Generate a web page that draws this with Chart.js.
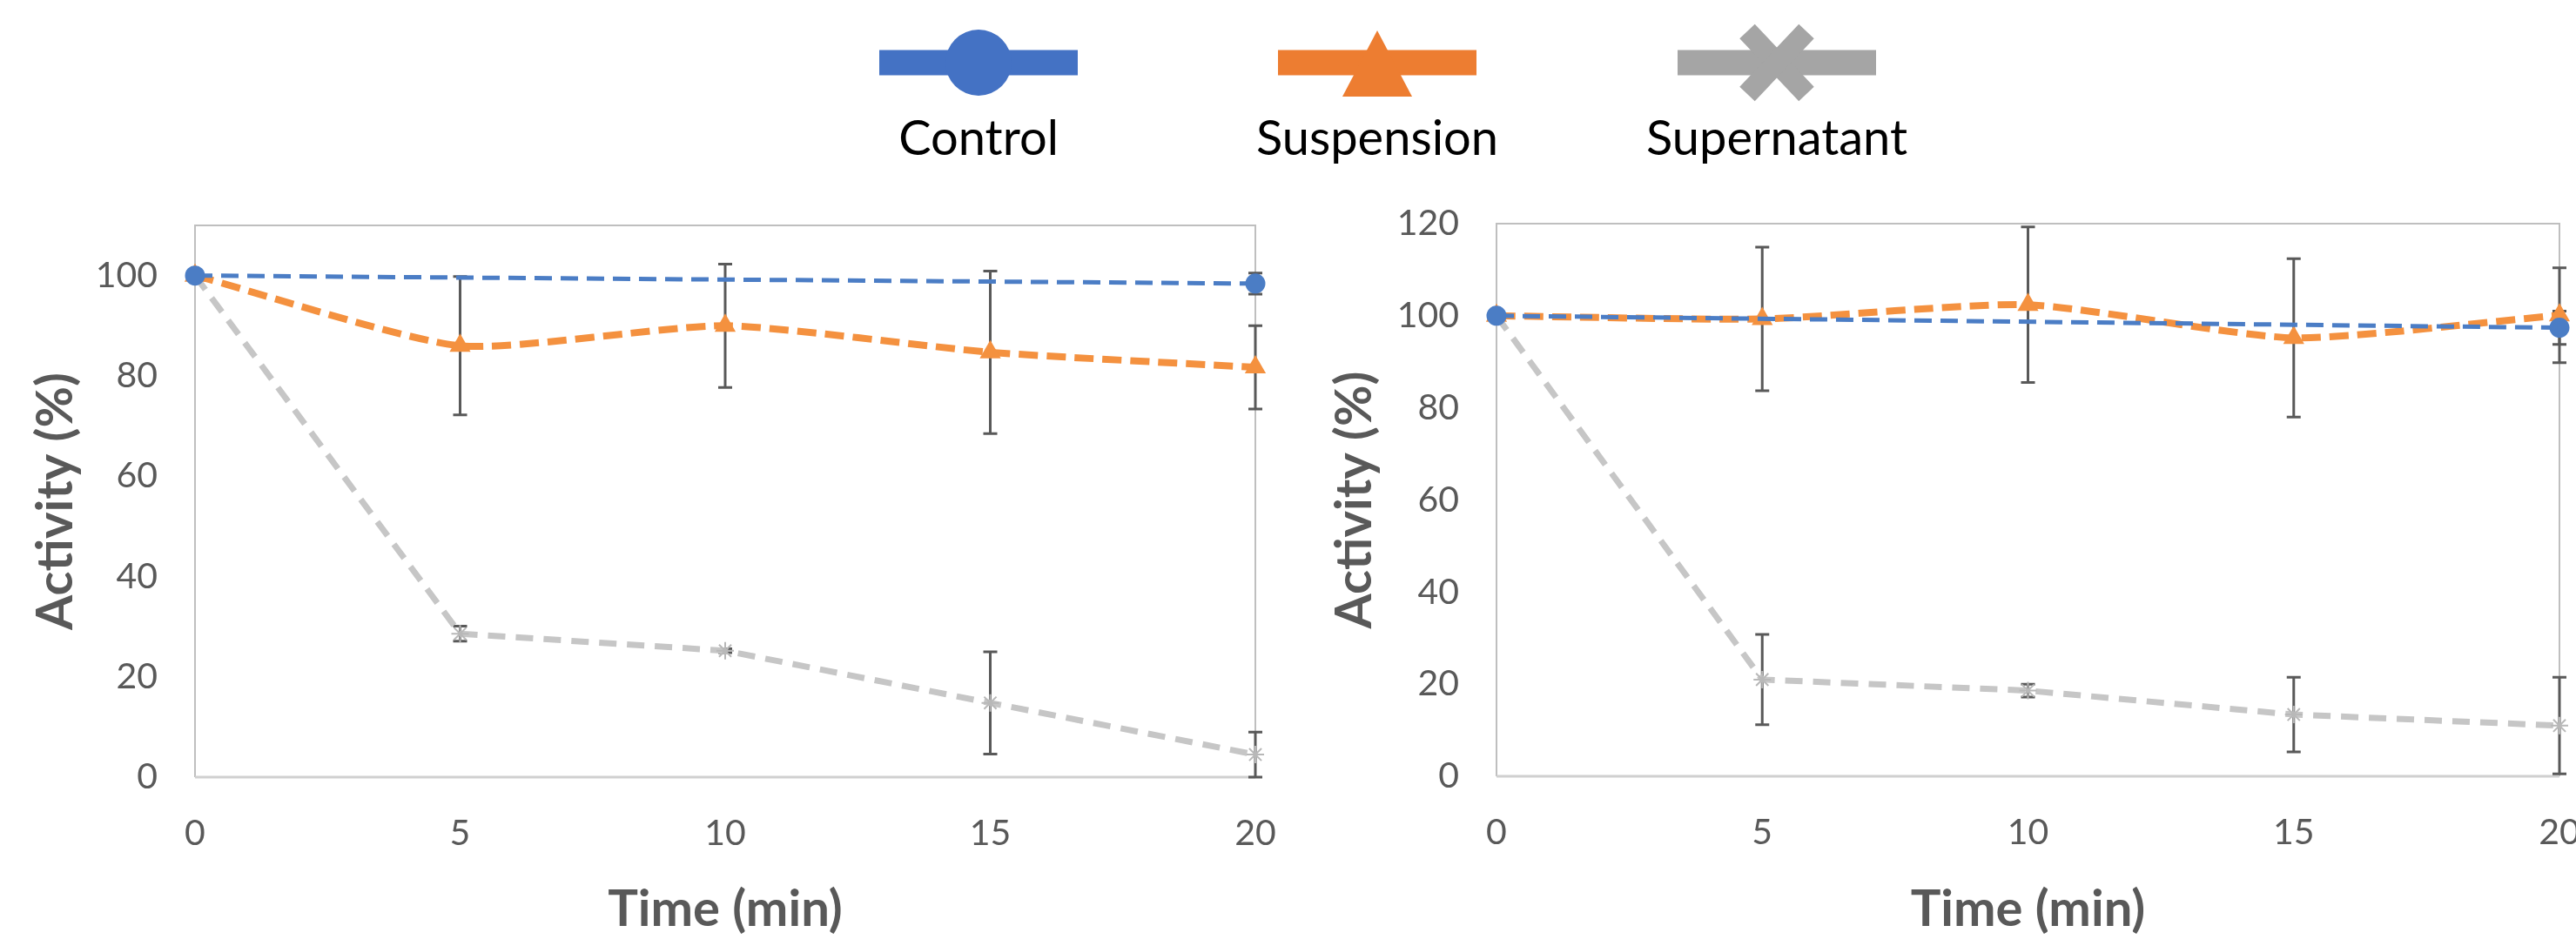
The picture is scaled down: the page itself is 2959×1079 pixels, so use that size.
<!DOCTYPE html>
<html><head><meta charset="utf-8">
<script src="https://cdn.jsdelivr.net/npm/chart.js@4.4.1/dist/chart.umd.min.js"></script>
<style>
html,body{margin:0;padding:0;width:2959px;height:1079px;overflow:hidden;background:#fff;}
#legend{position:absolute;left:0;top:0;}
.wrap{position:absolute;top:0;height:1079px;}
</style></head><body>
<svg id="legend" width="2959" height="200" xmlns="http://www.w3.org/2000/svg"></svg>
<div class="wrap" style="left:0;width:1480px"><canvas id="c1"></canvas></div>
<div class="wrap" style="left:1480px;width:1500px"><canvas id="c2"></canvas></div>
<script>
// ---------- data ----------
const seriesNames = ['Control', 'Suspension', 'Supernatant'];
const xTicks = [0, 5, 10, 15, 20];
const leftYTicks = [0, 20, 40, 60, 80, 100];
const rightYTicks = [0, 20, 40, 60, 80, 100, 120];
const timeAll = [0, 5, 10, 15, 20];
const timeControl = [0, 20];
const xTitle = 'Time (min)';
const yTitle = 'Activity (%)';

const leftControl = [100, 98.4];
const leftControlErr = [0, 2.1];
const leftSuspension = [100, 86.0, 90.0, 84.7, 81.7];
const leftSuspensionErr = [0, 13.8, 12.3, 16.2, 8.3];
const leftSupernatant = [100, 28.6, 25.2, 14.8, 4.5];
const leftSupernatantErr = [0, 1.5, 0.4, 10.2, 4.5];

const rightControl = [100, 97.4];
const rightControlErr = [0, 3.6];
const rightSuspension = [100, 99.3, 102.4, 95.2, 100.1];
const rightSuspensionErr = [0, 15.6, 16.9, 17.2, 10.3];
const rightSupernatant = [100, 21.0, 18.6, 13.4, 11.0];
const rightSupernatantErr = [0, 9.8, 1.4, 8.1, 10.5];

// ---------- styles ----------
const COL = {
  controlLegend: '#4472C4', suspLegend: '#ED7D31', superLegend: '#A5A5A5',
  control: '#4B7DC5', susp: '#F4913F', superLine: '#C6C6C6',
  text: '#595959', err: '#595959', frame: '#BFBFBF', axisLine: '#D0D0D0'
};
const FONT = 'Lato, "Open Sans", sans-serif';

// ---------- legend (SVG, real text) ----------
(function buildLegend() {
  const svg = document.getElementById('legend');
  const NS = 'http://www.w3.org/2000/svg';
  const centers = [1124, 1582, 2041];
  const cols = [COL.controlLegend, COL.suspLegend, COL.superLegend];
  const el = (tag, attrs) => { const e = document.createElementNS(NS, tag); for (const k in attrs) e.setAttribute(k, attrs[k]); svg.appendChild(e); return e; };
  seriesNames.forEach((name, i) => {
    const cx = centers[i], cy = 72, c = cols[i];
    el('rect', {x: cx - 114, y: cy - 14.5, width: 228, height: 29, fill: c});
    if (i === 0) el('circle', {cx: cx, cy: cy, r: 38, fill: c});
    if (i === 1) el('polygon', {points: `${cx},${cy - 37} ${cx - 40},${cy + 39} ${cx + 40},${cy + 39}`, fill: c});
    if (i === 2) {
      el('line', {x1: cx - 34, y1: cy - 36, x2: cx + 34, y2: cy + 36, stroke: c, 'stroke-width': 24});
      el('line', {x1: cx + 34, y1: cy - 36, x2: cx - 34, y2: cy + 36, stroke: c, 'stroke-width': 24});
    }
    const t = el('text', {x: cx, y: 178, 'text-anchor': 'middle', 'font-family': FONT, 'font-size': 56, fill: '#000'});
    t.textContent = name;
  });
})();

// ---------- plugins ----------
const framePlugin = {
  id: 'frame',
  beforeDatasetsDraw(chart) {
    const {ctx, chartArea: a} = chart;
    ctx.save();
    ctx.strokeStyle = COL.frame; ctx.lineWidth = 2;
    ctx.beginPath();
    ctx.moveTo(a.left, a.bottom); ctx.lineTo(a.left, a.top); ctx.lineTo(a.right, a.top); ctx.lineTo(a.right, a.bottom);
    ctx.stroke();
    ctx.strokeStyle = COL.axisLine; ctx.lineWidth = 3;
    ctx.beginPath(); ctx.moveTo(a.left, a.bottom); ctx.lineTo(a.right, a.bottom); ctx.stroke();
    // error bars
    ctx.strokeStyle = COL.err; ctx.lineWidth = 3;
    chart.data.datasets.forEach((ds, di) => {
      const meta = chart.getDatasetMeta(di);
      const ys = chart.scales.y;
      (ds.errors || []).forEach((e, i) => {
        if (!e) return;
        const pt = meta.data[i]; const v = ds.data[i].y;
        const x = pt.x, y1 = ys.getPixelForValue(v + e), y2 = ys.getPixelForValue(v - e);
        ctx.beginPath();
        ctx.moveTo(x, y1); ctx.lineTo(x, y2);
        ctx.moveTo(x - 8, y1); ctx.lineTo(x + 8, y1);
        ctx.moveTo(x - 8, y2); ctx.lineTo(x + 8, y2);
        ctx.stroke();
      });
    });
    ctx.restore();
  }
};

function pts(xs, ys) { return xs.map((x, i) => ({x: x, y: ys[i]})); }

function makeChart(id, cfg) {
  const datasets = [
    {label: seriesNames[0], data: pts(timeControl, cfg.control), errors: cfg.controlErr,
     borderColor: COL.control, backgroundColor: COL.control, borderWidth: 5, borderDash: [20, 10],
     pointStyle: 'circle', pointRadius: 11.5, pointBorderWidth: 0, pointBackgroundColor: COL.control, tension: 0, clip: false},
    {label: seriesNames[1], data: pts(timeAll, cfg.susp), errors: cfg.suspErr,
     borderColor: COL.susp, backgroundColor: COL.susp, borderWidth: 8, borderDash: [22, 10],
     pointStyle: 'triangle', pointRadius: 14, pointBorderWidth: 0, pointBackgroundColor: COL.susp, tension: 0.2, clip: false},
    {label: seriesNames[2], data: pts(timeAll, cfg.sup), errors: cfg.supErr,
     borderColor: COL.superLine, backgroundColor: 'rgba(0,0,0,0)', borderWidth: 7, borderDash: [20, 12],
     pointStyle: 'star', pointRadius: 10, pointBorderWidth: 2, pointBorderColor: '#B8B8B8', tension: 0, clip: false}
  ];
  return new Chart(document.getElementById(id), {
    type: 'line',
    data: {datasets},
    plugins: [framePlugin],
    options: {
      responsive: true, maintainAspectRatio: false, animation: false,
      layout: {padding: {left: 0, right: cfg.padRight, top: cfg.padTop, bottom: 0}},
      plugins: {legend: {display: false}, tooltip: {enabled: false}},
      scales: {
        x: {
          type: 'linear', min: 0, max: 20,
          grid: {display: false, drawTicks: false}, border: {display: false},
          afterBuildTicks: s => { s.ticks = xTicks.map(v => ({value: v})); },
          ticks: {color: COL.text, font: {family: FONT, size: 41}, padding: 40, maxRotation: 0, autoSkip: false},
          title: {display: true, text: xTitle, color: COL.text, font: {family: FONT, size: 58, weight: 'bold', lineHeight: 1}, padding: {top: 0, bottom: 5}},
          afterFit: s => { s.height = cfg.xH; s.paddingLeft = 0; s.paddingRight = 0; }
        },
        y: {
          type: 'linear', min: 0, max: cfg.yMax,
          grid: {display: false, drawTicks: false}, border: {display: false},
          afterBuildTicks: s => { s.ticks = cfg.yTicks.map(v => ({value: v})); },
          ticks: {color: COL.text, font: {family: FONT, size: 41}, padding: 43},
          title: {display: true, text: yTitle, color: COL.text, font: {family: FONT, size: 58, weight: 'bold', lineHeight: 1}, padding: {top: cfg.yTitlePad, bottom: 0}},
          afterFit: s => { s.width = cfg.yW; s.paddingTop = 0; s.paddingBottom = 0; }
        }
      }
    }
  });
}

makeChart('c1', {
  control: leftControl, controlErr: leftControlErr,
  susp: leftSuspension, suspErr: leftSuspensionErr,
  sup: leftSupernatant, supErr: leftSupernatantErr,
  yMax: 110, yTicks: leftYTicks,
  padRight: 1480 - 1442, padTop: 259, xH: 1079 - 893, yW: 224, yTitlePad: 35
});
makeChart('c2', {
  control: rightControl, controlErr: rightControlErr,
  susp: rightSuspension, suspErr: rightSuspensionErr,
  sup: rightSupernatant, supErr: rightSupernatantErr,
  yMax: 120, yTicks: rightYTicks,
  padRight: 1500 - 1460, padTop: 257, xH: 1079 - 892, yW: 1719 - 1480, yTitlePad: 47
});
</script>
</body></html>
